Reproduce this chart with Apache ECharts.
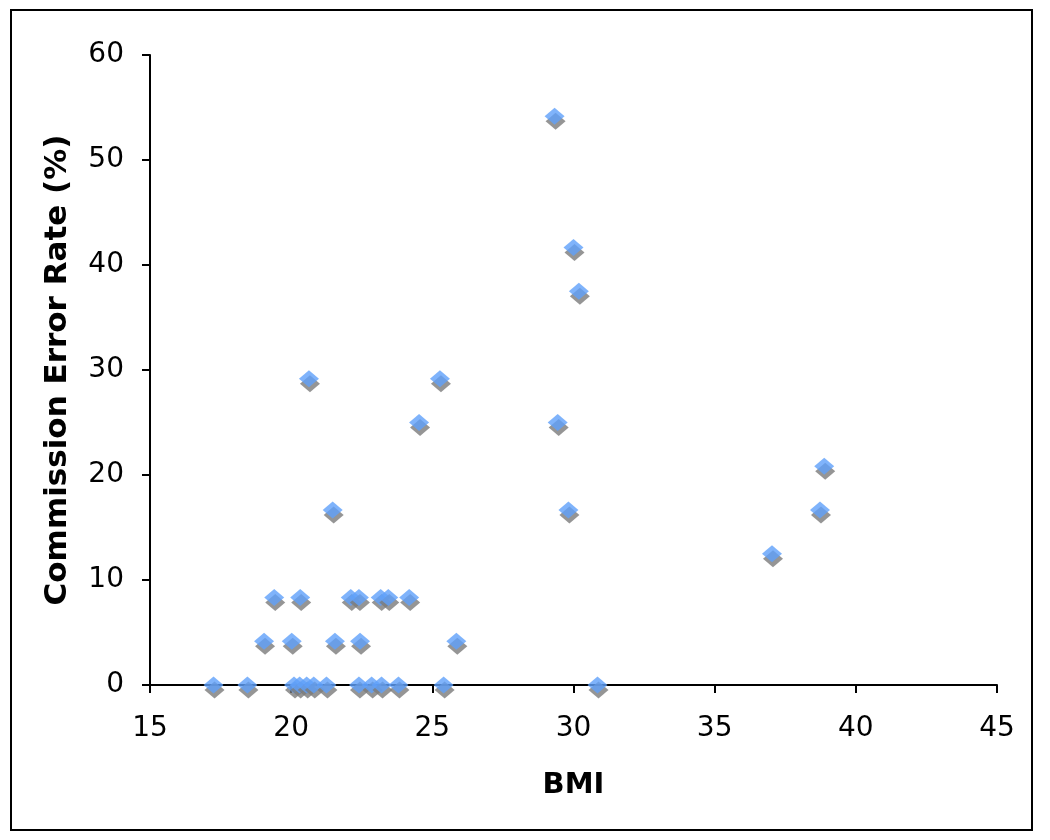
<!DOCTYPE html>
<html>
<head>
<meta charset="utf-8">
<script src="https://cdn.jsdelivr.net/npm/echarts@6/dist/echarts.min.js"></script>
<style>
html,body{margin:0;padding:0;background:#fff;}
#chart{width:1050px;height:840px;}
</style>
</head>
<body>
<div id="chart"></div>
<script>
// BMI values (x) and commission error rate (%) values (y)
const bmi = [
  17.25, 18.45, 20.1, 20.3, 20.55, 20.8, 21.25, 22.4, 22.85, 23.2, 23.8, 25.4, 30.85,
  19.04, 20.02, 21.55, 22.44, 25.85,
  19.4, 20.32, 22.11, 22.4, 23.17, 23.44, 24.18,
  37.03,
  21.47, 29.82, 38.73,
  38.88,
  24.53, 29.44,
  20.63, 25.27,
  30.19,
  30.0,
  29.33
];
const errorRate = [
  0, 0, 0, 0, 0, 0, 0, 0, 0, 0, 0, 0, 0,
  4.17, 4.17, 4.17, 4.17, 4.17,
  8.33, 8.33, 8.33, 8.33, 8.33, 8.33, 8.33,
  12.5,
  16.67, 16.67, 16.67,
  20.83,
  25, 25,
  29.17, 29.17,
  37.5,
  41.67,
  54.17
];
const xTicks = [15, 20, 25, 30, 35, 40, 45];
const yTicks = [0, 10, 20, 30, 40, 50, 60];
const xTitle = 'BMI';
const yTitle = 'Commission Error Rate (%)';

const points = bmi.map((x, i) => [x, errorRate[i]]);

const chart = echarts.init(document.getElementById('chart'), null, {renderer: 'canvas'});
const axisFont = 'DejaVu Sans, Verdana, sans-serif';
chart.setOption({
  animation: false,
  backgroundColor: '#ffffff',
  graphic: [{
    type: 'rect',
    shape: {x: 11, y: 10, width: 1021, height: 820},
    style: {fill: 'none', stroke: '#000', lineWidth: 2},
    silent: true
  }],
  grid: {left: 150, right: 53, top: 55, bottom: 155},
  xAxis: {
    type: 'value',
    min: xTicks[0], max: xTicks[xTicks.length - 1], interval: 5,
    name: xTitle, nameLocation: 'middle', nameGap: 86,
    nameTextStyle: {fontFamily: axisFont, fontWeight: 'bold', fontSize: 29, color: '#000'},
    axisLine: {show: true, lineStyle: {color: '#000', width: 2}},
    axisTick: {show: true, length: 8, lineStyle: {color: '#000', width: 2}},
    axisLabel: {color: '#000', fontFamily: axisFont, fontSize: 28, margin: 30},
    splitLine: {show: false}
  },
  yAxis: {
    type: 'value',
    min: yTicks[0], max: yTicks[yTicks.length - 1], interval: 10,
    name: yTitle, nameLocation: 'middle', nameGap: 77, nameRotate: 90,
    nameTextStyle: {fontFamily: axisFont, fontWeight: 'bold', fontSize: 31, color: '#000'},
    axisLine: {show: true, lineStyle: {color: '#000', width: 2}},
    axisTick: {show: true, length: 8, lineStyle: {color: '#000', width: 2}},
    axisLabel: {color: '#000', fontFamily: axisFont, fontSize: 28, margin: 26},
    splitLine: {show: false}
  },
  series: [{
    type: 'scatter',
    data: points,
    symbol: 'diamond',
    symbolSize: [20, 17],
    itemStyle: {
      color: '#5FA0FA',
      shadowColor: '#7a7a7a',
      shadowBlur: 0,
      shadowOffsetX: 1,
      shadowOffsetY: 5
    }
  }]
});
</script>
</body>
</html>
